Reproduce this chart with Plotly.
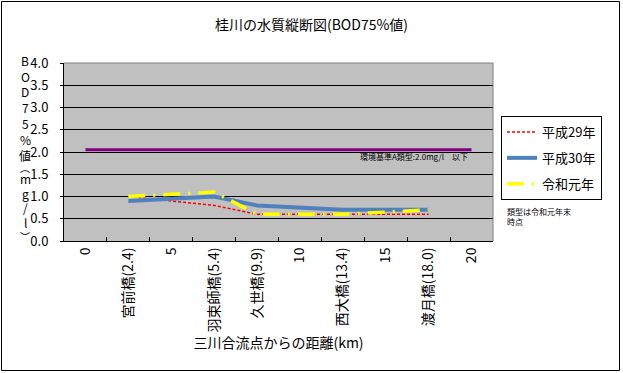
import plotly.graph_objects as go

categories = ["0", "宮前橋(2.4)", "5", "羽束師橋(5.4)", "久世橋(9.9)", "10",
              "西大橋(13.4)", "15", "渡月橋(18.0)", "20"]
stations = ["宮前橋(2.4)", "羽束師橋(5.4)", "久世橋(9.9)", "西大橋(13.4)", "渡月橋(18.0)"]
h29 = [1.0, 0.8, 0.6, 0.6, 0.6]
h30 = [0.9, 1.0, 0.8, 0.7, 0.7]
r1 = [1.0, 1.1, 0.6, 0.6, 0.7]
std_x = ["0", "20"]
std_y = [2.05, 2.05]
y_ticks = [0.0, 0.5, 1.0, 1.5, 2.0, 2.5, 3.0, 3.5, 4.0]
y_title_chars = ["B", "O", "D", "7", "5", "%", "値", "︵", "m", "g", "/", "l", "︶"]

FONT = "Noto Sans CJK JP"
L, R, T, B = 64, 493, 63, 241
PW, PH = R - L, B - T


def px(x):
    return (x - L) / PW


def py(y):
    return (B - y) / PH


char_y = [61, 76, 91, 107, 123, 139, 155, 167, 178, 193, 207, 222, 236]

annotations = [
    dict(text=c, xref="paper", yref="paper", x=px(25), y=py(yy),
         xanchor="center", yanchor="middle", showarrow=False,
         font=dict(size=10 if c in "︵︶" else 12, family=FONT))
    for c, yy in zip(y_title_chars, char_y)
]
annotations += [
    dict(text="環境基準A類型:2.0mg/l　以下", xref="paper", yref="paper",
         x=px(414), y=py(156), xanchor="center", yanchor="middle",
         showarrow=False, font=dict(size=8, family=FONT)),
    dict(text="類型は令和元年末<br>時点", xref="paper", yref="paper",
         x=px(505), y=py(204), xanchor="left", yanchor="top",
         showarrow=False, align="left", font=dict(size=8, family=FONT)),
]

fig = go.Figure()
fig.add_trace(go.Scatter(x=std_x, y=std_y, mode="lines", showlegend=False,
                         line=dict(color="#800080", width=3)))
fig.add_trace(go.Scatter(x=stations, y=h29, mode="lines", name="平成29年", legendgroup="a",
                         line=dict(color="#FF0000", width=1.5, dash="3px,2px")))
fig.add_trace(go.Scatter(x=stations, y=h30, mode="lines", name="平成30年", legendgroup="b",
                         line=dict(color="#4F81BD", width=4)))
fig.add_trace(go.Scatter(x=stations, y=r1, mode="lines", name="令和元年", legendgroup="c",
                         line=dict(color="#FFFF00", width=3.5, dash="17px,8px,2px,8px")))

fig.update_layout(
    width=623, height=373,
    margin=dict(l=L, r=623 - R, t=T, b=373 - B, autoexpand=False),
    paper_bgcolor="white", plot_bgcolor="#C0C0C0",
    font=dict(family=FONT, size=13, color="black"),
    title=dict(text="桂川の水質縦断図(BOD75%値)", x=0.5, xanchor="center", xref="container",
               y=1 - 25 / 373, yanchor="middle", yref="container",
               font=dict(size=14, family=FONT)),
    legend=dict(x=px(501), y=py(116), xanchor="left", yanchor="top",
                bgcolor="white", bordercolor="black", borderwidth=1,
                font=dict(size=13, family=FONT), tracegroupgap=6,
                itemwidth=30),
    showlegend=True,
    xaxis=dict(type="category", categoryorder="array", categoryarray=categories,
               range=[-0.5, 9.5], tickangle=-90, tickson="boundaries",
               ticks="inside", ticklen=4, tickcolor="black",
               showgrid=False, showline=True, linecolor="black", linewidth=1,
               mirror=False, tickfont=dict(size=14, family=FONT), automargin=False,
               title=dict(text="三川合流点からの距離(km)", font=dict(size=14, family=FONT), standoff=4)),
    yaxis=dict(range=[0, 4.0], tickvals=y_ticks, tickformat=".1f",
               showgrid=True, gridcolor="black", gridwidth=1,
               showline=True, linecolor="black", linewidth=1,
               ticks="outside", ticklen=3, tickcolor="black",
               ticklabelstandoff=9, tickfont=dict(size=13, family=FONT),
               zeroline=False, automargin=False),
    shapes=[
        dict(type="line", xref="paper", yref="paper", x0=0, x1=1, y0=1, y1=1,
             line=dict(color="#808080", width=1)),
        dict(type="line", xref="paper", yref="paper", x0=1, x1=1, y0=0, y1=1,
             line=dict(color="#808080", width=1)),
        dict(type="rect", xref="paper", yref="paper",
             x0=px(1.5), x1=px(619.5), y0=py(370.5), y1=py(1.5),
             line=dict(color="black", width=1)),
    ],
    annotations=annotations,
)

fig.write_html("out.html", config={"displayModeBar": False},
               post_script="document.body.style.margin='0';document.body.style.padding='0';")
